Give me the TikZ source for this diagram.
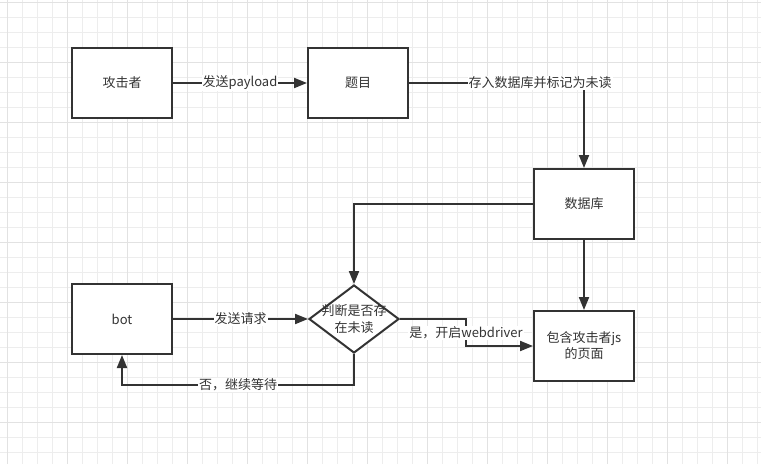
\documentclass[tikz,border=0pt]{standalone}
\usepackage{fontspec}
\setmainfont{Noto Sans CJK SC}
\usetikzlibrary{arrows.meta,shapes.geometric}
\definecolor{ink}{HTML}{333333}
\definecolor{gridc}{HTML}{EDEDED}
\definecolor{gridm}{HTML}{E2E2E2}
\begin{document}
\begin{tikzpicture}[x=1pt,y=-1pt,
  box/.style={draw=ink,line width=2pt,fill=white,minimum width=100pt,minimum height=70pt,inner sep=0pt,text=ink,font=\fontsize{13}{16}\selectfont,align=center},
  arr/.style={draw=ink,line width=2pt,-{Triangle[length=13pt,width=10pt]}},
  lbl/.style={fill=white,text=ink,inner sep=1pt,font=\fontsize{13}{16}\selectfont}]
\fill[white] (0,0) rectangle (761,464);
\useasboundingbox (0,0) rectangle (761,464);
\foreach \i in {0,...,50} \draw[gridc,line width=1pt] ({7+15*\i},0) -- ({7+15*\i},464);
\foreach \i in {0,...,30} \draw[gridc,line width=1pt] (0,{2+15*\i}) -- (761,{2+15*\i});
\foreach \i in {0,...,12} \draw[gridm,line width=1pt] ({7+60*\i},0) -- ({7+60*\i},464);
\foreach \i in {0,...,7} \draw[gridm,line width=1pt] (0,{2+60*\i}) -- (761,{2+60*\i});

\node[box] (att) at (122,83) {攻击者};
\node[box] (tm) at (358,83) {题目};
\node[box] (db) at (584,204) {数据库};
\node[box] (bot) at (122,319) {bot};
\node[box] (page) at (584,346) {包含攻击者js\\的页面};
\node[diamond,draw=ink,line width=2pt,fill=white,minimum width=90pt,minimum height=68pt,inner sep=0pt] (dec) at (354,319) {};
\node[text=ink,align=center,font=\fontsize{13}{17}\selectfont] (dect) at (dec.center) {判断是否存\\在未读};

\draw[arr] (att.east) -- (tm.west) node[lbl,midway] (l1) {发送payload};
\draw[arr] (tm.east) -| (db.north);
\node[lbl] (l2) at (540,83) {存入数据库并标记为未读};
\draw[arr] (db.west) -| (dec.north);
\draw[arr] (db.south) -- (page.north);
\draw[arr] (bot.east) -- (dec.west) node[lbl,midway] (l3) {发送请求};
\draw[arr] (dec.east) -- (466,319) |- (page.west);
\node[lbl] (l4) at (466,333) {是，开启webdriver};
\draw[arr] (dec.south) |- (238,385) -| (bot.south);
\node[lbl] (l5) at (238,385) {否，继续等待};
\end{tikzpicture}
\end{document}
